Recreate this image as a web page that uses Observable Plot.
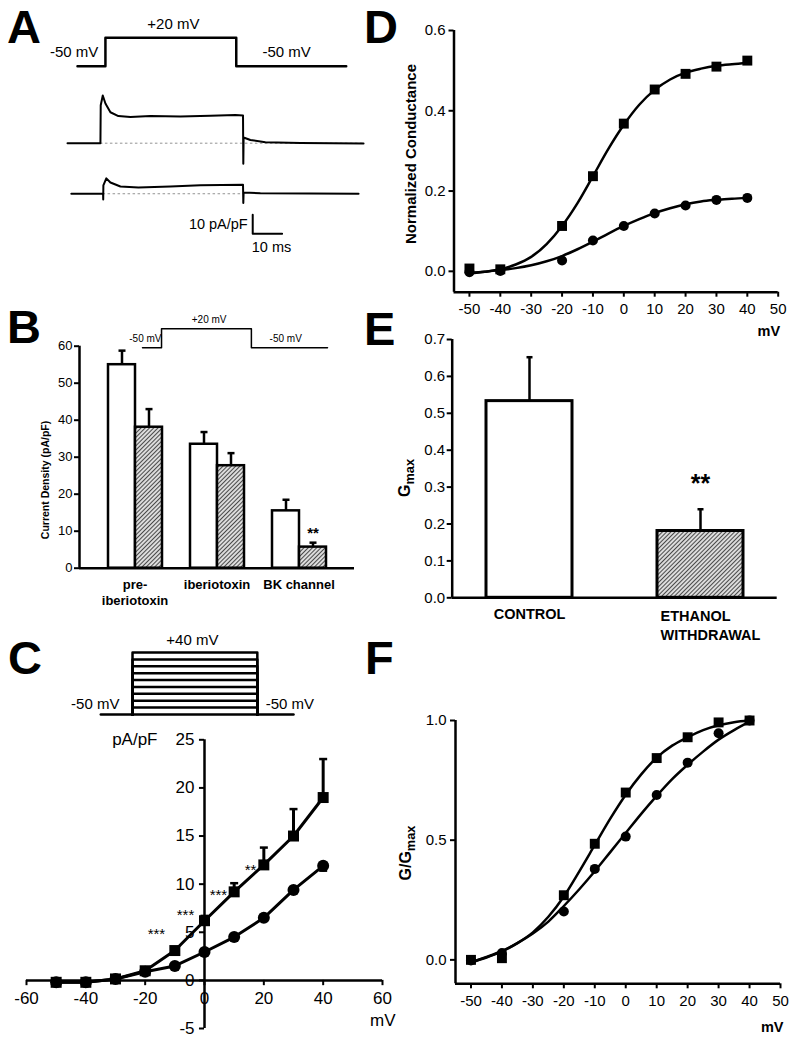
<!DOCTYPE html>
<html>
<head>
<meta charset="utf-8">
<script src="https://cdn.jsdelivr.net/npm/d3@7"></script>
<script src="https://cdn.jsdelivr.net/npm/@observablehq/plot@0.6"></script>
<style>
  html, body { margin: 0; padding: 0; background: #fff; }
  #fig { position: relative; width: 800px; height: 1042px; overflow: hidden; font-family: "Liberation Sans", Arial, sans-serif; }
  #fig > svg { position: absolute; left: 0; top: 0; overflow: visible; }
  #fig g[aria-label$="axis tick"] { stroke-width: 2px; }
</style>
</head>
<body>
<div id="fig">
<svg width="0" height="0" aria-hidden="true"><defs>
<pattern id="hatch" patternUnits="userSpaceOnUse" width="3" height="3" patternTransform="rotate(45)">
<rect width="3" height="3" fill="#dcdcdc"></rect>
<line x1="1.5" y1="0" x2="1.5" y2="3" stroke="#4a4a4a" stroke-width="1"></line>
</pattern></defs></svg>
</div>
<script>
// ================= DATA =================
// Panel A: voltage protocol (ms, mV) and two current traces (ms, pA/pF)
const aProtoTime = [3.4, 12.9, 57.4, 94.8];
const aProtoVolt = [-50, 20, -50, -50];
const aProtoText = ["-50 mV", "+20 mV", "-50 mV"];
const aProtoTextTime = [10.5, 36.0, 66.3];
const aProtoTextVolt = [-16, 53, -16];
const aProtoTextAnchor = ["end", "middle", "start"];
const aTrace1Time = [0, 11.2, 11.3, 12.0, 12.9, 14.6, 17.3, 21.4, 28.2, 38.4, 48.6, 57.1, 59.7, 59.8, 59.9, 62.2, 67.3, 79.3, 100.7];
const aTrace1 = [0, 0, 20, 25.1, 20.9, 16.3, 14.3, 13.8, 14.3, 14.0, 14.5, 14.8, 14.6, -10.8, 3.0, 1.7, 0.5, 0.1, -0.1];
const aTrace2Time = [1.3, 12.1, 12.15, 12.2, 13.2, 14.6, 18.0, 24.1, 35.0, 45.2, 59.7, 59.8, 59.9, 65.6, 99.0];
const aTrace2 = [0, 0, -3.0, 4.4, 8.1, 5.9, 3.8, 3.3, 3.8, 4.5, 4.7, -4.9, 0.7, 0.2, 0];
const aTraceGap = 26.6;            // vertical separation of the two traces (pA/pF)
const aScaleBarTime = 63, aScaleBarCurrent = -47.7, aScaleBarMs = 10, aScaleBarPApF = 10;

// Panel B: current density (pA/pF)
const bGroups = ["pre-\niberiotoxin", "iberiotoxin", "BK channel"];
const bConds = ["control", "ethanol"];
const bControlMean = [55.0, 33.5, 15.5];
const bControlSem = [3.8, 3.3, 3.0];
const bEthanolMean = [38.1, 27.7, 5.7];
const bEthanolSem = [4.9, 3.4, 1.2];
const bYTicks = [0, 10, 20, 30, 40, 50, 60];
const bSignif = [{group: "BK channel", cond: "ethanol", text: "**"}];
const bProtoTime = [0, 7.2, 41.2, 70];
const bProtoVolt = [-50, 20, -50, -50];
const bProtoText = ["-50 mV", "+20 mV", "-50 mV"];
const bProtoTextTime = [7.2, 25.2, 48.1];
const bProtoTextVolt = [-15.7, 54.3, -15.7];
const bProtoTextAnchor = ["end", "middle", "start"];

// Panel C: I-V relation (mV, pA/pF)
const cVolt = [-50, -40, -30, -20, -10, 0, 10, 20, 30, 40];
const cControl = [-0.2, -0.2, 0.15, 1.0, 3.1, 6.2, 9.2, 12.0, 15.0, 19.0];
const cControlSem = [0, 0, 0, 0.2, 0.3, 0.5, 0.9, 1.8, 2.8, 4.0];
const cEthanol = [-0.2, -0.2, 0.15, 0.9, 1.5, 2.95, 4.5, 6.5, 9.4, 11.9];
const cEthanolSem = [0, 0, 0, 0, 0, 0, 0.1, 0.2, 0.3, 0.5];
const cXTicks = [-60, -40, -20, 0, 20, 40, 60];
const cYTicks = [-5, 0, 5, 10, 15, 20, 25];
const cStarVolt = [-16.2, -6.4, 4.7, 15.5];
const cStarLevel = [4.79, 6.8, 8.88, 11.48];
const cStarText = ["***", "***", "***", "**"];
const cProtoTime = [0, 10.7, 52.8, 65];
const cProtoHold = -50;
const cProtoLevels = [-40, -30, -20, -10, 0, 10, 20, 30, 40];
const cProtoText = ["-50 mV", "+40 mV", "-50 mV"];
const cProtoTextTime = [6.3, 30.9, 55.6];
const cProtoTextVolt = [-35.5, 57.4, -35.5];
const cProtoTextAnchor = ["end", "middle", "start"];

// Panels D and F: conductance vs voltage
const gVolt = [-50, -40, -20, -10, 0, 10, 20, 30, 40];
const dControl = [0.007, 0.005, 0.113, 0.237, 0.368, 0.453, 0.492, 0.510, 0.525];
const dEthanol = [-0.002, 0.001, 0.027, 0.077, 0.113, 0.144, 0.164, 0.178, 0.183];
const fitVolt = [-50, -45, -40, -35, -30, -25, -20, -15, -10, -5, 0, 5, 10, 15, 20, 25, 30, 35, 40];
const dFitControl = [-0.005, -0.001, 0.005, 0.017, 0.036, 0.068, 0.113, 0.170, 0.237, 0.305, 0.365, 0.415, 0.452, 0.478, 0.495, 0.505, 0.512, 0.516, 0.519];
const dFitEthanol = [-0.004, -0.001, 0.003, 0.008, 0.015, 0.025, 0.038, 0.055, 0.074, 0.094, 0.113, 0.130, 0.145, 0.157, 0.167, 0.174, 0.178, 0.181, 0.183];
const fControl = [0.0, 0.007, 0.27, 0.485, 0.699, 0.843, 0.930, 0.992, 1.0];
const fEthanol = [-0.003, 0.029, 0.202, 0.380, 0.515, 0.689, 0.824, 0.947, 1.0];
const fFitControl = [-0.01, 0.01, 0.035, 0.07, 0.115, 0.18, 0.265, 0.37, 0.48, 0.59, 0.69, 0.775, 0.845, 0.895, 0.93, 0.96, 0.98, 0.993, 1.0];
const fFitEthanol = [-0.01, 0.012, 0.037, 0.07, 0.11, 0.16, 0.225, 0.295, 0.37, 0.45, 0.53, 0.61, 0.685, 0.755, 0.815, 0.87, 0.92, 0.96, 0.995];
const gXTicks = [-50, -40, -30, -20, -10, 0, 10, 20, 30, 40, 50];
const dYTicks = [0, 0.2, 0.4, 0.6];
const fYTicks = [0, 0.5, 1.0];

// Panel E: Gmax
const eCats = ["CONTROL", "ETHANOL\nWITHDRAWAL"];
const eGmax = [0.533, 0.181];
const eSem = [0.119, 0.059];
const eYTicks = [0, 0.1, 0.2, 0.3, 0.4, 0.5, 0.6, 0.7];
const eSignif = [{cat: "ETHANOL\nWITHDRAWAL", text: "**"}];

// Panel letters and axis titles
const panelLetters = ["A", "B", "C", "D", "E", "F"];

// ================= DRAWING =================
const FONT = '"Liberation Sans", Arial, Helvetica, sans-serif';
const W = 800, H = 1042;
const HATCH = "#bbbbbc";
const fig = document.getElementById("fig");
const capSymbol = {draw(ctx, size) { const w = Math.sqrt(size / Math.PI); ctx.moveTo(-w, 0); ctx.lineTo(w, 0); }};

function base(l, r, t, b, fontSize) {
  return {
    width: W, height: H,
    marginLeft: l, marginRight: W - r, marginTop: t, marginBottom: H - b,
    style: {background: "transparent", overflow: "visible", fontFamily: FONT, fontSize: fontSize + "px", color: "black"}
  };
}
function rows(xs, ys, extra = {}) { return xs.map((x, i) => ({x, y: ys[i], ...Object.fromEntries(Object.entries(extra).map(([k, v]) => [k, v[i]]))})); }
function labelMarks(data, opts) {
  return ["start", "middle", "end"].map(a => Plot.text(data.filter(d => d.anchor === a), {x: "x", y: "y", text: "text", textAnchor: a, ...opts}));
}
const add = (p) => fig.appendChild(p);

// ---- Panel A protocol ----
add(Plot.plot({
  ...base(67, 361, 37.3, 65.7, 15),
  x: {domain: [0, 100], axis: null}, y: {domain: [-50, 20], axis: null},
  marks: [
    Plot.line(rows(aProtoTime, aProtoVolt), {x: "x", y: "y", curve: "step-after", strokeWidth: 2.5}),
    ...labelMarks(rows(aProtoTextTime, aProtoTextVolt, {text: aProtoText, anchor: aProtoTextAnchor}), {fontSize: 15})
  ]
}));

// ---- Panel A traces ----
add(Plot.plot({
  ...base(67, 361, 85.7, 237.7, 14.5),
  x: {domain: [0, 100], axis: null}, y: {domain: [-50, 30], axis: null},
  marks: [
    Plot.ruleY([0], {x1: aTrace1Time[1], x2: aTrace1Time[aTrace1Time.length - 1], stroke: "#777", strokeWidth: 0.8, strokeDasharray: "2.5 2.5"}),
    Plot.ruleY([-aTraceGap], {x1: aTrace2Time[1], x2: aTrace2Time[11], stroke: "#777", strokeWidth: 0.8, strokeDasharray: "2.5 2.5"}),
    Plot.line(rows(aTrace1Time, aTrace1), {x: "x", y: "y", strokeWidth: 2}),
    Plot.line(rows(aTrace2Time, aTrace2.map(v => v - aTraceGap)), {x: "x", y: "y", strokeWidth: 2}),
    Plot.line([
      {x: aScaleBarTime, y: aScaleBarCurrent + aScaleBarPApF},
      {x: aScaleBarTime, y: aScaleBarCurrent},
      {x: aScaleBarTime + aScaleBarMs, y: aScaleBarCurrent}
    ], {x: "x", y: "y", strokeWidth: 2}),
    Plot.text([`${aScaleBarPApF} pA/pF`], {x: aScaleBarTime, y: aScaleBarCurrent + aScaleBarPApF / 2, dx: -5, textAnchor: "end"}),
    Plot.text([`${aScaleBarMs} ms`], {x: aScaleBarTime, y: aScaleBarCurrent, dx: -1, dy: 13.4, textAnchor: "start"})
  ]
}));

// ---- Panel B protocol ----
add(Plot.plot({
  ...base(142, 327, 328.3, 347.3, 10),
  x: {domain: [0, 70], axis: null}, y: {domain: [-50, 20], axis: null},
  marks: [
    Plot.line(rows(bProtoTime, bProtoVolt), {x: "x", y: "y", curve: "step-after", strokeWidth: 1.5}),
    ...labelMarks(rows(bProtoTextTime, bProtoTextVolt, {text: bProtoText, anchor: bProtoTextAnchor}), {fontSize: 10, dx: 0})
  ]
}));

// ---- Panel B bars ----
const bRows = bGroups.flatMap((g, i) => [
  {group: g, cond: "control", m: bControlMean[i], e: bControlSem[i]},
  {group: g, cond: "ethanol", m: bEthanolMean[i], e: bEthanolSem[i]}
]);
add(Plot.plot({
  ...base(79, 354, 345.7, 567.7, 13),
  fx: {domain: bGroups, paddingInner: 0.325, paddingOuter: 0.325, axis: null, label: null},
  x: {domain: bConds, padding: 0, axis: null, label: null},
  y: {domain: [0, 60], axis: null, label: null},
  marks: [
    Plot.ruleX(bRows, {fx: "group", x: "cond", y1: "m", y2: d => d.m + d.e, strokeWidth: 2.5}),
    Plot.dot(bRows, {fx: "group", x: "cond", y: d => d.m + d.e, symbol: capSymbol, r: 3.5, fill: "none", stroke: "black", strokeWidth: 2.5}),
    Plot.barY(bRows.filter(d => d.cond === "control"), {fx: "group", x: "cond", y: "m", fill: "white", stroke: "black", strokeWidth: 2.5}),
    Plot.barY(bRows.filter(d => d.cond === "ethanol"), {fx: "group", x: "cond", y: "m", fill: HATCH, stroke: "black", strokeWidth: 2.5}),
    Plot.text(bSignif, {fx: "group", x: "cond", y: d => { const r = bRows.find(b => b.group === d.group && b.cond === d.cond); return r.m + r.e; }, dy: -9, text: "text", fontWeight: "bold", fontSize: 15}),
    Plot.text(bGroups, {fx: d => d, text: d => d, frameAnchor: "bottom", lineAnchor: "top", dy: 8.6, fontWeight: "bold", fontSize: 13, lineHeight: 1.27})
  ]
}));

// ---- Panel B axes ----
add(Plot.plot({
  ...base(79, 354, 345.7, 567.7, 13),
  x: {domain: [0, 1], axis: null},
  y: {domain: [0, 60], ticks: bYTicks, tickSize: 5, tickPadding: 2, tickFormat: d => String(d), label: null},
  marks: [
    Plot.ruleX([0], {y1: 0, y2: 60, strokeWidth: 2.5}),
    Plot.ruleY([0], {x1: 0, x2: 1, strokeWidth: 2.5})
  ]
}));

// ---- Panel C protocol ----
const [cStart, cOn, cOff, cEnd] = cProtoTime;
const cProtoRows = cProtoLevels.flatMap(L => [[cOn, cProtoHold], [cOn, L], [cOff, L], [cOff, cProtoHold]].map(([x, y]) => ({x, y, L})));
add(Plot.plot({
  ...base(100.3, 293, 652, 714, 15),
  x: {domain: [0, 65], axis: null}, y: {domain: [-50, 40], axis: null},
  marks: [
    Plot.line(cProtoRows, {x: "x", y: "y", z: "L", strokeWidth: 2.5}),
    Plot.line([{x: cStart, y: cProtoHold}, {x: cEnd, y: cProtoHold}], {x: "x", y: "y", strokeWidth: 2.5}),
    ...labelMarks(rows(cProtoTextTime, cProtoTextVolt, {text: cProtoText, anchor: cProtoTextAnchor}), {fontSize: 15})
  ]
}));

// ---- Panel C I-V ----
const cCtrl = rows(cVolt, cControl, {e: cControlSem});
const cEth = rows(cVolt, cEthanol, {e: cEthanolSem});
add(Plot.plot({
  ...base(26, 382, 739.3, 1028, 17),
  x: {domain: [-60, 60], axis: null}, y: {domain: [-5, 25], axis: null},
  marks: [
    Plot.ruleY([0], {x1: -60, x2: 60, strokeWidth: 2.5}),
    Plot.ruleX([0], {y1: -5, y2: 25, strokeWidth: 2.5}),
    Plot.ruleX(cXTicks, {x: d => d, y1: 0, y2: -0.55, strokeWidth: 2}),
    Plot.text(cXTicks, {x: d => d, y: 0, dy: 18, text: d => String(d), fontSize: 17}),
    Plot.ruleY(cYTicks, {y: d => d, x1: 0, x2: -1.7, strokeWidth: 2}),
    Plot.text(cYTicks, {x: 0, y: d => d, dx: -10, textAnchor: "end", text: d => String(d), fontSize: 17}),
    Plot.text(["pA/pF"], {x: 0, y: 25, dx: -47, textAnchor: "end", fontSize: 17}),
    Plot.text(["mV"], {x: 60, y: -5, dx: 13, dy: -8, textAnchor: "end", fontSize: 17}),
    Plot.ruleX(cCtrl.filter(d => d.e > 0), {x: "x", y1: "y", y2: d => d.y + d.e, strokeWidth: 3}),
    Plot.dot(cCtrl.filter(d => d.e > 0), {x: "x", y: d => d.y + d.e, symbol: capSymbol, r: 4, fill: "none", stroke: "black", strokeWidth: 2.5}),
    Plot.ruleX(cEth.filter(d => d.e > 0), {x: "x", y1: "y", y2: d => d.y - d.e, strokeWidth: 3}),
    Plot.dot(cEth.filter(d => d.e > 0), {x: "x", y: d => d.y - d.e, symbol: capSymbol, r: 4, fill: "none", stroke: "black", strokeWidth: 2.5}),
    Plot.line(cCtrl, {x: "x", y: "y", strokeWidth: 3}),
    Plot.line(cEth, {x: "x", y: "y", strokeWidth: 3}),
    Plot.dot(cCtrl, {x: "x", y: "y", symbol: "square", r: 6.2, fill: "black"}),
    Plot.dot(cEth, {x: "x", y: "y", symbol: "circle", r: 6, fill: "black"}),
    Plot.text(rows(cStarVolt, cStarLevel, {text: cStarText}), {x: "x", y: "y", text: "text", fontSize: 15})
  ]
}));

// ---- Panels D and F ----
function gPanel(l, r, t, b, yDomain, yTicks, yPad, xPad, ctrl, eth, fitC, fitE, mvDx, mvDy) {
  return Plot.plot({
    ...base(l, r, t, b, 15),
    x: {domain: [-55, 50], ticks: gXTicks, tickSize: 5, tickPadding: xPad, tickFormat: d => String(d), label: null},
    y: {domain: yDomain, ticks: yTicks, tickSize: 5, tickPadding: yPad, tickFormat: ".1f", label: null},
    marks: [
      Plot.ruleX([-55], {y1: yDomain[0], y2: yDomain[1], strokeWidth: 2.5}),
      Plot.ruleY([yDomain[0]], {x1: -55, x2: 50, strokeWidth: 2.5}),
      Plot.line(rows(fitVolt, fitC), {x: "x", y: "y", curve: "monotone-x", strokeWidth: 2.5}),
      Plot.line(rows(fitVolt, fitE), {x: "x", y: "y", curve: "monotone-x", strokeWidth: 2.5}),
      Plot.dot(rows(gVolt, ctrl), {x: "x", y: "y", symbol: "square", r: 5.6, fill: "black"}),
      Plot.dot(rows(gVolt, eth), {x: "x", y: "y", symbol: "circle", r: 5, fill: "black"}),
      Plot.text(["mV"], {x: 50, y: yDomain[0], dx: mvDx, dy: mvDy, textAnchor: "end", fontWeight: "bold", fontSize: 14.5})
    ]
  });
}
add(gPanel(453.5, 777.7, 30, 291.7, [-0.052, 0.6], dYTicks, 3.5, 6, dControl, dEthanol, dFitControl, dFitEthanol, 2, 39));
add(gPanel(455, 780, 720, 983.3, [-0.1, 1.0], fYTicks, 4, 7, fControl, fEthanol, fFitControl, fFitEthanol, 3, 43.4));

// ---- Panel E ----
const eRows = eCats.map((c, i) => ({cat: c, m: eGmax[i], e: eSem[i]}));
add(Plot.plot({
  ...base(451.7, 776.7, 339, 597.3, 15),
  x: {domain: eCats, paddingInner: 0.5, paddingOuter: 0.195, axis: null, label: null},
  y: {domain: [0, 0.7], axis: null, label: null},
  marks: [
    Plot.ruleX(eRows, {x: "cat", y1: "m", y2: d => d.m + d.e, strokeWidth: 2.5}),
    Plot.dot(eRows, {x: "cat", y: d => d.m + d.e, symbol: capSymbol, r: 3, fill: "none", stroke: "black", strokeWidth: 2.5}),
    Plot.barY(eRows.slice(0, 1), {x: "cat", y: "m", fill: "white", stroke: "black", strokeWidth: 3}),
    Plot.barY(eRows.slice(1), {x: "cat", y: "m", fill: HATCH, stroke: "black", strokeWidth: 3}),
    Plot.text(eSignif, {x: "cat", y: d => { const r = eRows.find(e => e.cat === d.cat); return r.m + r.e; }, dy: -25.6, text: "text", fontWeight: "bold", fontSize: 25}),
    Plot.text(eCats.slice(0, 1), {x: d => d, text: d => d, frameAnchor: "bottom", lineAnchor: "top", dy: 11, fontWeight: "bold", fontSize: 14.5}),
    Plot.text(eCats.slice(1), {x: d => d, text: d => d, frameAnchor: "bottom", lineAnchor: "top", dy: 9, dx: -40, textAnchor: "start", fontWeight: "bold", fontSize: 14.5, lineHeight: 1.35})
  ]
}));
add(Plot.plot({
  ...base(451.7, 776.7, 339, 597.3, 15),
  x: {domain: [0, 1], axis: null},
  y: {domain: [0, 0.7], ticks: eYTicks, tickSize: 5, tickPadding: 2, tickFormat: ".1f", label: null},
  marks: [
    Plot.ruleX([0], {y1: 0, y2: 0.7, strokeWidth: 2.5}),
    Plot.ruleY([0], {x1: 0, x2: 1, strokeWidth: 2.5})
  ]
}));

// hatch fill for ethanol bars
d3.selectAll(`#fig g[fill="${HATCH}"]`).attr("fill", "url(#hatch)");

// ---- Annotations: panel letters & rotated axis titles ----
const ann = d3.create("svg").attr("width", W).attr("height", H).attr("font-family", FONT).attr("fill", "black");
const letterPos = [[7, 43], [7, 343], [8, 674], [364, 43], [364, 345], [365, 674]];
panelLetters.forEach((L, i) => ann.append("text").attr("x", letterPos[i][0]).attr("y", letterPos[i][1])
  .attr("font-size", 47).attr("font-weight", "bold").text(L));
function vtitle(x, y, size, parts) {
  const t = ann.append("text").attr("transform", `translate(${x},${y}) rotate(-90)`)
    .attr("text-anchor", "middle").attr("font-weight", "bold").attr("font-size", size);
  parts.forEach(([s, sub]) => {
    const ts = t.append("tspan").text(s);
    if (sub) ts.attr("font-size", size * 0.8).attr("dy", size * 0.28);
    else if (t.selectAll("tspan").size() > 1) ts.attr("dy", -size * 0.28);
  });
}
vtitle(49, 480, 10.5, [["Current Density (pA/pF)"]]);
vtitle(416, 154, 15, [["Normalized Conductance"]]);
vtitle(410, 478, 16, [["G"], ["max", true]]);
vtitle(411, 853, 16, [["G/G"], ["max", true]]);
fig.appendChild(ann.node());
</script>
</body>
</html>
